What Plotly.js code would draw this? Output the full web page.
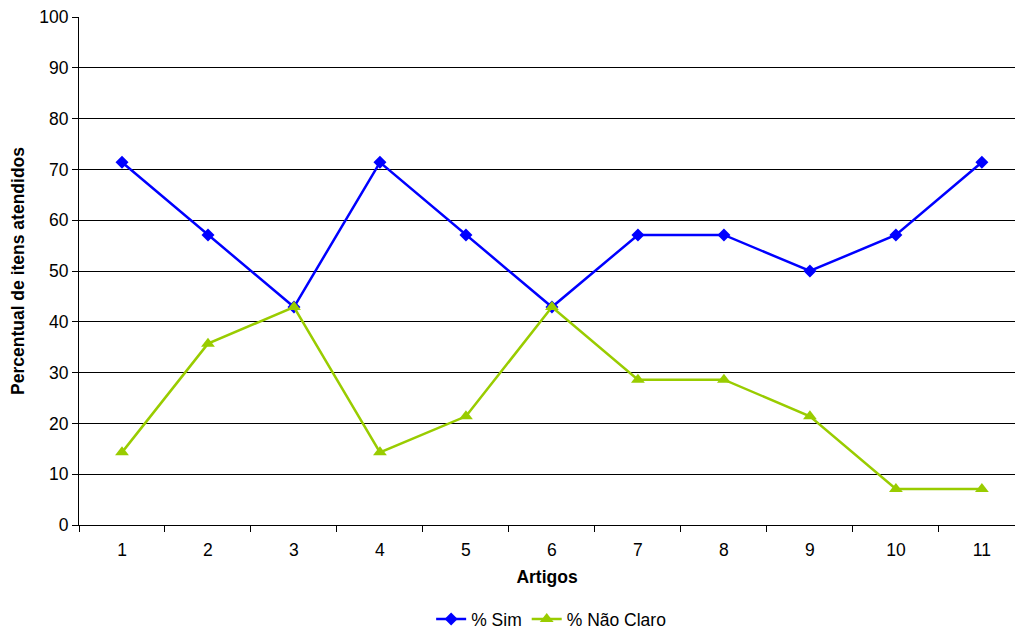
<!DOCTYPE html>
<html>
<head>
<meta charset="utf-8">
<script src="https://cdn.plot.ly/plotly-3.0.1.min.js"></script>
<style>html,body{margin:0;padding:0;background:#fff;}#chart{width:1015px;height:631px;}</style>
</head>
<body>
<div id="chart"></div>
<script>
var categories = ['1','2','3','4','5','6','7','8','9','10','11'];
var simValues = [71.4, 57.1, 42.9, 71.4, 57.1, 42.9, 57.1, 57.1, 50.0, 57.1, 71.4];
var naoClaroValues = [14.3, 35.7, 42.9, 14.3, 21.4, 42.9, 28.6, 28.6, 21.4, 7.1, 7.1];
var seriesNames = ['% Sim', '% Não Claro'];

var font = 'Liberation Sans, Arial, sans-serif';
var traces = [
  {x: categories, y: simValues, name: seriesNames[0], type: 'scatter', mode: 'lines+markers', cliponaxis: false,
   line: {color: '#0000FF', width: 2.5}, marker: {symbol: 'diamond', size: 10, color: '#0000FF'}},
  {x: categories, y: naoClaroValues, name: seriesNames[1], type: 'scatter', mode: 'lines+markers', cliponaxis: false,
   line: {color: '#99CC00', width: 2.5}, marker: {symbol: 'triangle-up', size: 12, color: '#99CC00'}}
];
var layout = {
  width: 1015, height: 631,
  margin: {l: 79, r: 0, t: 17, b: 106, autoexpand: false},
  paper_bgcolor: '#fff', plot_bgcolor: '#fff',
  font: {family: font, size: 17.5, color: '#000'},
  showlegend: true,
  legend: {orientation: 'h', x: 0.543, xanchor: 'center', xref: 'container', yref: 'container', y: 0.019, yanchor: 'middle',
           font: {size: 17.5}, itemwidth: 30, tracegroupgap: 0},
  xaxis: {type: 'category', range: [-0.5, 10.385], tickson: 'boundaries', ticks: 'outside', ticklen: 6, tickcolor: '#000',
          ticklabelstandoff: 9,
          showline: true, linecolor: '#000', linewidth: 1, showgrid: false, zeroline: false,
          title: {text: '<b>Artigos</b>', font: {size: 17.5}, standoff: 11}, tickfont: {size: 17.5}},
  yaxis: {range: [0, 100], dtick: 10, ticks: 'outside', ticklen: 6, tickcolor: '#000',
          showline: true, linecolor: '#000', linewidth: 1, showgrid: true, gridcolor: '#000', gridwidth: 1, zeroline: false,
          title: {text: '<b>Percentual de itens atendidos</b>', font: {size: 17.5}, standoff: 10}, tickfont: {size: 17.5}}
};
Plotly.newPlot('chart', traces, layout, {displayModeBar: false});
</script>
</body>
</html>
